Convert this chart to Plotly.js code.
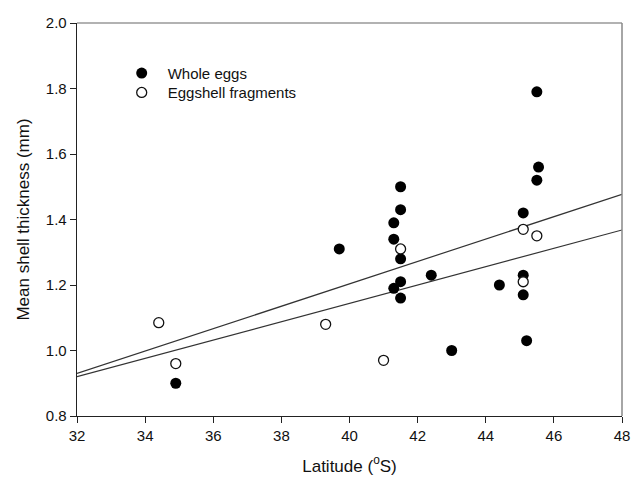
<!DOCTYPE html>
<html><head><meta charset="utf-8">
<script src="https://cdn.plot.ly/plotly-3.0.1.min.js"></script>
<style>html,body{margin:0;padding:0;background:#fff}#chart{width:631px;height:483px}</style>
</head><body><div id="chart"></div>
<script>
// Whole eggs (filled circles)
const wholeLat   = [34.9, 39.7, 41.5, 41.5, 41.3, 41.3, 41.5, 41.5, 41.3, 41.5, 42.4, 43.0, 44.4, 45.1, 45.1, 45.1, 45.2, 45.5, 45.55, 45.5];
const wholeThick = [0.90, 1.31, 1.50, 1.43, 1.39, 1.34, 1.28, 1.21, 1.19, 1.16, 1.23, 1.00, 1.20, 1.42, 1.23, 1.17, 1.03, 1.79, 1.56, 1.52];
// Eggshell fragments (open circles)
const fragLat   = [34.4, 34.9, 39.3, 41.0, 41.5, 45.1, 45.5, 45.1];
const fragThick = [1.085, 0.96, 1.08, 0.97, 1.31, 1.37, 1.35, 1.21];
// Regression lines
const fitLat   = [32, 48];
const wholeFit = [0.93, 1.477];
const fragFit  = [0.92, 1.368];
// Ticks
const xTicks = [32, 34, 36, 38, 40, 42, 44, 46, 48];
const yTicks = [0.8, 1.0, 1.2, 1.4, 1.6, 1.8, 2.0];
const yTickLabels = ['0.8', '1.0', '1.2', '1.4', '1.6', '1.8', '2.0'];

const FONT = 'Liberation Sans, Arial, sans-serif';

const traces = [
  {x: fitLat, y: wholeFit, mode: 'lines', line: {color: '#333', width: 1.2}, showlegend: false, hoverinfo: 'skip'},
  {x: fitLat, y: fragFit, mode: 'lines', line: {color: '#333', width: 1.2}, showlegend: false, hoverinfo: 'skip'},
  {x: wholeLat, y: wholeThick, mode: 'markers', name: 'Whole eggs', legend: 'legend',
   marker: {symbol: 'circle', size: 11, color: '#000', line: {width: 0}}},
  {x: fragLat, y: fragThick, mode: 'markers', name: 'Eggshell fragments', legend: 'legend2',
   marker: {symbol: 'circle', size: 10, color: '#fff', line: {width: 1.3, color: '#111'}}}
];

const legendCommon = {
  xanchor: 'left', yanchor: 'middle', bgcolor: 'rgba(0,0,0,0)', borderwidth: 0,
  font: {family: FONT, size: 15, color: '#111'}, itemwidth: 42
};

const layout = {
  width: 631, height: 483,
  margin: {l: 77, r: 9, t: 23, b: 67},
  paper_bgcolor: '#fff', plot_bgcolor: '#fff',
  font: {family: FONT, color: '#111'},
  xaxis: {
    range: [32, 48], tickvals: xTicks, ticks: 'outside', ticklen: 6, tickwidth: 1, tickcolor: '#222',
    showline: true, linecolor: '#222', linewidth: 1.3, showgrid: false, zeroline: false,
    tickfont: {family: FONT, size: 15, color: '#111'},
    title: {text: 'Latitude (<sup>o</sup>S)', font: {family: FONT, size: 17, color: '#111'}, standoff: 16}
  },
  yaxis: {
    range: [0.8, 2.0], tickvals: yTicks, ticktext: yTickLabels, ticks: 'outside', ticklen: 6, tickwidth: 1, tickcolor: '#222',
    showline: true, linecolor: '#222', linewidth: 1.3, showgrid: false, zeroline: false,
    tickfont: {family: FONT, size: 15, color: '#111'},
    title: {text: 'Mean shell thickness (mm)', font: {family: FONT, size: 17, color: '#111'}, standoff: 12}
  },
  legend: Object.assign({x: 0.071, y: 0.872}, legendCommon),
  legend2: Object.assign({x: 0.071, y: 0.8226}, legendCommon),
  shapes: [
    {type: 'line', xref: 'paper', yref: 'paper', x0: 0, x1: 1, y0: 1, y1: 1, line: {color: '#999', width: 1.5}},
    {type: 'line', xref: 'paper', yref: 'paper', x0: 1, x1: 1, y0: 0, y1: 1, line: {color: '#888', width: 1.5}}
  ],
  showlegend: true
};

Plotly.newPlot('chart', traces, layout, {displayModeBar: false, staticPlot: true});
</script>
</body></html>
